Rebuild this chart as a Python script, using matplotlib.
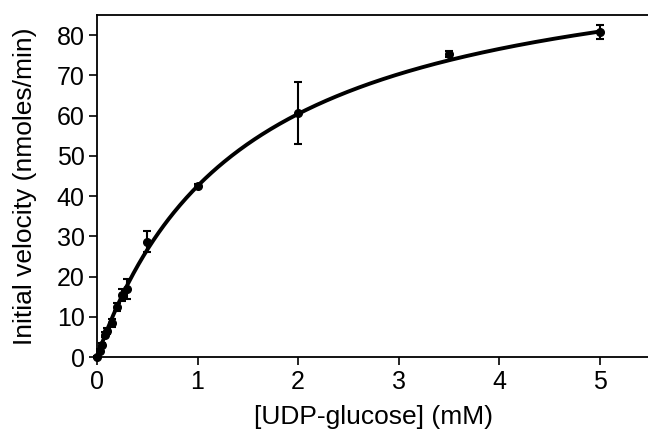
import numpy as np
import matplotlib
matplotlib.use("Agg")
import matplotlib.pyplot as plt

# Data
conc = [0.0, 0.025, 0.05, 0.075, 0.1, 0.15, 0.2, 0.25, 0.3, 0.5, 1.0, 2.0, 3.5, 5.0]
velocity = [0.0, 1.5, 3.0, 5.5, 6.5, 8.5, 12.5, 15.5, 17.0, 28.6, 42.5, 60.7, 75.3, 80.8]
err = [0.3, 0.4, 0.5, 0.6, 0.7, 1.0, 1.0, 1.5, 2.5, 2.6, 0.6, 7.7, 0.7, 1.8]

# Michaelis-Menten fit parameters
vmax = 104.5
km = 1.46

xticks = [0, 1, 2, 3, 4, 5]
yticks = [0, 10, 20, 30, 40, 50, 60, 70, 80]

plt.rcParams['font.family'] = ['Liberation Sans', 'DejaVu Sans']

fig = plt.figure(figsize=(6.48, 4.34), dpi=100)
ax = fig.add_axes([0.1497, 0.1774, 0.853, 0.788])

xs = np.linspace(0, max(conc), 400)
ax.plot(xs, vmax * xs / (km + xs), color='black', lw=2.8, zorder=2)
ax.errorbar(conc, velocity, yerr=err, fmt='o', color='black', ms=5.5,
            elinewidth=1.5, capsize=3, capthick=1.5, zorder=3, clip_on=False)

ax.set_xlim(0, 5.5)
ax.set_ylim(0, 85)
ax.set_xticks(xticks)
ax.set_yticks(yticks)
ax.tick_params(direction='out', length=6, width=1.2, labelsize=18, pad=3)
for s in ['left', 'bottom', 'top']:
    ax.spines[s].set_linewidth(1.3)
ax.spines['right'].set_visible(False)

ax.set_xlabel('[UDP-glucose] (mM)', fontsize=19, labelpad=8)
ax.set_ylabel('Initial velocity (nmoles/min)', fontsize=19, labelpad=14)

fig.savefig('out.png', dpi=100)
